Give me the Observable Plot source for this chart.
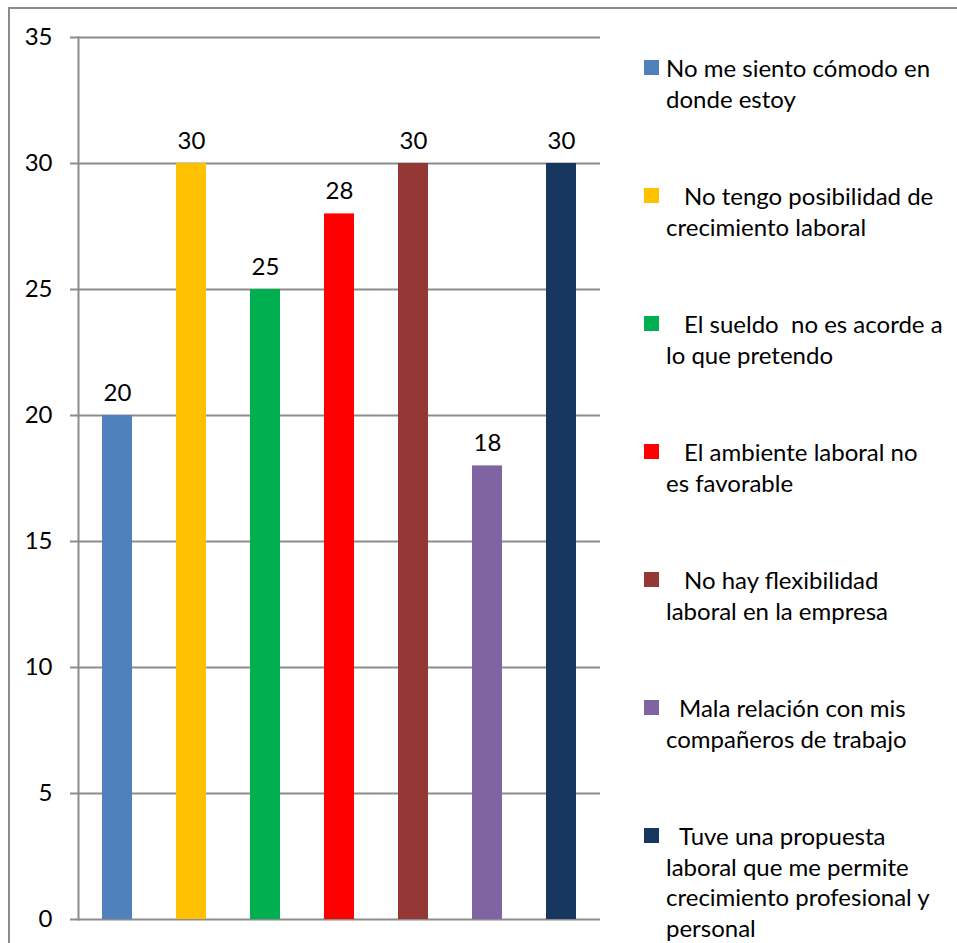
<!DOCTYPE html>
<html>
<head>
<meta charset="utf-8">
<script src="https://cdn.jsdelivr.net/npm/d3@7"></script>
<script src="https://cdn.jsdelivr.net/npm/@observablehq/plot@0.6"></script>
<style>
  body { margin: 0; background: #fff; }
  #wrap { position: relative; width: 957px; height: 943px; overflow: hidden; font-family: Lato, sans-serif; color: #000; }
  #border { position: absolute; left: 8px; top: 7px; width: 2000px; height: 2000px;
            border-left: 2px solid #8c8c8c; border-top: 2px solid #8c8c8c; }
  #chart { position: absolute; left: 0; top: 0; }
  .entry { position: absolute; left: 644px; width: 313px; }
  .swatch { position: absolute; left: 0; top: 0; width: 15px; height: 15px; }
  .label { position: absolute; left: 22px; top: -7px; width: 300px; font-size: 24px;
           line-height: 30.6px; white-space: pre-wrap; }
</style>
</head>
<body>
<div id="wrap">
  <div id="border"></div>
  <div id="chart"></div>
  <div id="legend"></div>
</div>
<script>
// Reasons for leaving the job (survey counts)
const categories = [
  "No me siento cómodo en\ndonde estoy",
  "No tengo posibilidad de\ncrecimiento laboral",
  "El sueldo  no es acorde a\nlo que pretendo",
  "El ambiente laboral no\nes favorable",
  "No hay flexibilidad\nlaboral en la empresa",
  "Mala relación con mis\ncompañeros de trabajo",
  "Tuve una propuesta\nlaboral que me permite\ncrecimiento profesional y\npersonal"
];
const values = [20, 30, 25, 28, 30, 18, 30];
const colors = ["#4F81BD", "#FFC000", "#00B050", "#FF0000", "#953735", "#8064A2", "#17375E"];
const yTicks = [0, 5, 10, 15, 20, 25, 30, 35];
// first-line indent of each legend label (leading blank in the labels)
const indents = [0, 18, 18, 18, 18, 13, 13];

const data = categories.map((c, i) => ({cat: c, value: values[i], color: colors[i]}));
const axisGray = "#8c8c8c";

const chart = Plot.plot({
  width: 957,
  height: 943,
  marginLeft: 78,
  marginRight: 357,
  marginTop: 37,
  marginBottom: 24,
  style: {fontFamily: "Lato, sans-serif", fontSize: "24px", color: "#000", background: "transparent"},
  x: {domain: categories, paddingInner: 0.598, paddingOuter: 0.299, axis: null},
  y: {domain: [0, 35]},
  color: {type: "identity"},
  marks: [
    Plot.gridY(yTicks, {stroke: axisGray, strokeOpacity: 1, strokeWidth: 2}),
    Plot.axisY(yTicks, {tickSize: 8, tickPadding: 18, stroke: axisGray, strokeWidth: 2,
                        fill: "#000", fontSize: 24, label: null}),
    Plot.frame({anchor: "left", stroke: axisGray, strokeWidth: 2}),
    Plot.barY(data, {x: "cat", y: "value", fill: "color"}),
    Plot.text(data, {x: "cat", y: "value", text: d => String(d.value), lineAnchor: "bottom",
                     dy: -15, fontSize: 24, fill: "#000"})
  ]
});
document.getElementById("chart").appendChild(chart);

// Legend: one swatch and wrapped label per category
const legend = document.getElementById("legend");
categories.forEach((c, i) => {
  const e = document.createElement("div");
  e.className = "entry";
  e.style.top = (60 + 128 * i) + "px";
  const s = document.createElement("div");
  s.className = "swatch";
  s.style.background = colors[i];
  const t = document.createElement("div");
  t.className = "label";
  t.style.textIndent = indents[i] + "px";
  t.textContent = c;
  e.appendChild(s);
  e.appendChild(t);
  legend.appendChild(e);
});
</script>
</body>
</html>
